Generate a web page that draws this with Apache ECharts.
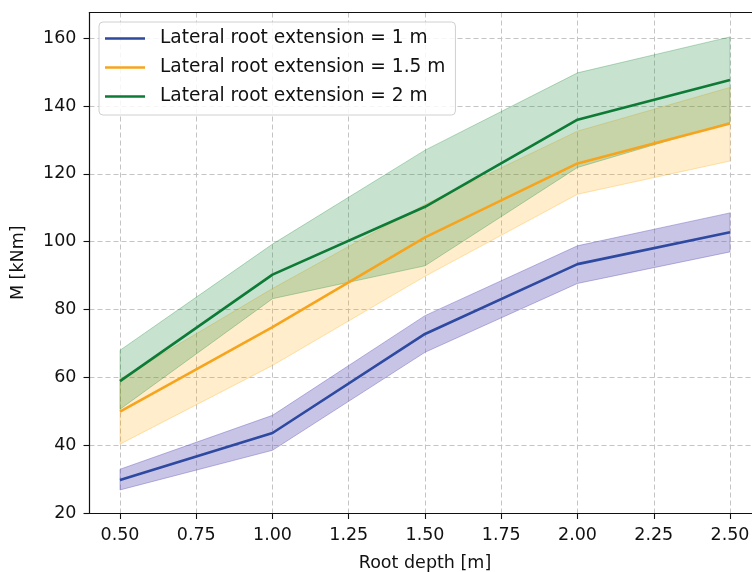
<!DOCTYPE html>
<html>
<head>
<meta charset="utf-8">
<script src="https://cdn.jsdelivr.net/npm/echarts@6/dist/echarts.min.js"></script>
<style>
html,body{margin:0;padding:0;background:#fff;}
#chart{width:752px;height:572px;}
</style>
</head>
<body>
<div id="chart"></div>
<script>
// Root depth [m]
const depths = [0.5, 1.0, 1.5, 2.0, 2.5];
const xTicks = [0.5, 0.75, 1.0, 1.25, 1.5, 1.75, 2.0, 2.25, 2.5];
const yTicks = [20, 40, 60, 80, 100, 120, 140, 160];

const names = ['Lateral root extension = 1 m', 'Lateral root extension = 1.5 m', 'Lateral root extension = 2 m'];

// Lateral root extension = 1 m
const mean1 = [29.7, 43.6, 72.8, 93.4, 102.8];
const low1  = [26.8, 38.5, 67.4, 87.7, 97.0];
const high1 = [32.9, 48.8, 78.2, 98.8, 108.5];
// Lateral root extension = 1.5 m
const mean15 = [49.9, 74.8, 101.3, 123.1, 134.9];
const low15  = [40.3, 63.5, 89.8, 114.0, 123.8];
const high15 = [59.5, 86.2, 111.0, 132.6, 145.5];
// Lateral root extension = 2 m
const mean2 = [58.9, 90.3, 110.3, 136.0, 147.7];
const low2  = [50.6, 83.2, 92.9, 121.9, 135.2];
const high2 = [68.0, 99.3, 127.0, 149.8, 160.4];

const lineColors = ['#2d49a0', '#f7a41d', '#0d7a36'];
const bandColors = ['rgba(110,100,190,0.38)', 'rgba(255,165,0,0.2)', 'rgba(30,140,60,0.25)'];
const bandEdges  = ['rgba(110,100,190,0.45)', 'rgba(255,165,0,0.3)', 'rgba(30,140,60,0.3)'];

const pairs = (ys) => depths.map((x, i) => [x, ys[i]]);

function band(idx, lo, hi, z) {
  return {
    type: 'custom', silent: true, z: z, clip: true,
    data: depths.map((x, i) => [x, lo[i], hi[i]]),
    encode: { x: 0, y: [1, 2] },
    renderItem: function (params, api) {
      if (params.dataIndex !== 0) return null;
      const upper = depths.map((x, i) => api.coord([x, hi[i]]));
      const lower = depths.map((x, i) => api.coord([x, lo[i]])).reverse();
      return {
        type: 'polygon',
        shape: { points: upper.concat(lower) },
        style: { fill: bandColors[idx], stroke: bandEdges[idx], lineWidth: 1 }
      };
    }
  };
}

function meanLine(idx, ys) {
  return {
    name: names[idx], type: 'line', data: pairs(ys), symbol: 'none', z: 5,
    lineStyle: { color: lineColors[idx], width: 2.6 },
    itemStyle: { color: lineColors[idx] }
  };
}

const font = 'DejaVu Sans';
const chart = echarts.init(document.getElementById('chart'), null, { renderer: 'canvas' });
chart.setOption({
  animation: false,
  backgroundColor: '#fff',
  grid: { left: 89.5, top: 12.5, width: 671, height: 500.5, containLabel: false, outerBoundsMode: 'none' },
  legend: {
    data: names,
    orient: 'vertical',
    left: 99, top: 22,
    padding: [7, 10, 9, 6],
    itemGap: 10,
    icon: 'rect',
    itemWidth: 40, itemHeight: 2.6,
    backgroundColor: 'rgba(255,255,255,0.85)',
    borderColor: '#d0d0d0', borderWidth: 1, borderRadius: 4,
    textStyle: { fontFamily: font, fontSize: 18.6, color: '#111', padding: [0, 0, 0, 10] }
  },
  xAxis: [
    {
      type: 'value', min: 0.4, max: 2.6,
      name: 'Root depth [m]', nameLocation: 'middle', nameGap: 41,
      nameTextStyle: { fontFamily: font, fontSize: 17.5, color: '#111' },
      axisLine: { show: true, lineStyle: { color: '#111', width: 1.2 } },
      axisTick: { show: true, length: 6, customValues: xTicks, lineStyle: { color: '#111', width: 1.1 } },
      axisLabel: { customValues: xTicks, margin: 13, fontFamily: font, fontSize: 17.5, color: '#111',
        formatter: (v) => v.toFixed(2) },
      splitLine: { show: true, lineStyle: { color: '#c4c4c4', type: [5, 3], width: 1 } }
    },
    {
      type: 'value', position: 'top', min: 0.4, max: 2.6,
      axisLine: { show: true, onZero: false, lineStyle: { color: '#111', width: 1.2 } },
      axisTick: { show: false }, axisLabel: { show: false }, splitLine: { show: false }
    }
  ],
  yAxis: {
    type: 'value', min: 20, max: 167.6,
    name: 'M [kNm]', nameLocation: 'middle', nameGap: 62, nameRotate: 90,
    nameTextStyle: { fontFamily: font, fontSize: 17.5, color: '#111' },
    axisLine: { show: true, onZero: false, lineStyle: { color: '#111', width: 1.2 } },
    axisTick: { show: true, length: 6, customValues: yTicks, lineStyle: { color: '#111', width: 1.1 } },
    axisLabel: { customValues: yTicks, margin: 13, fontFamily: font, fontSize: 17.5, color: '#111' },
    splitLine: { show: true, lineStyle: { color: '#c4c4c4', type: [5, 3], width: 1 } }
  },
  series: [
    band(0, low1, high1, 1),
    band(1, low15, high15, 2),
    band(2, low2, high2, 3),
    meanLine(0, mean1),
    meanLine(1, mean15),
    meanLine(2, mean2)
  ]
});
</script>
</body>
</html>
